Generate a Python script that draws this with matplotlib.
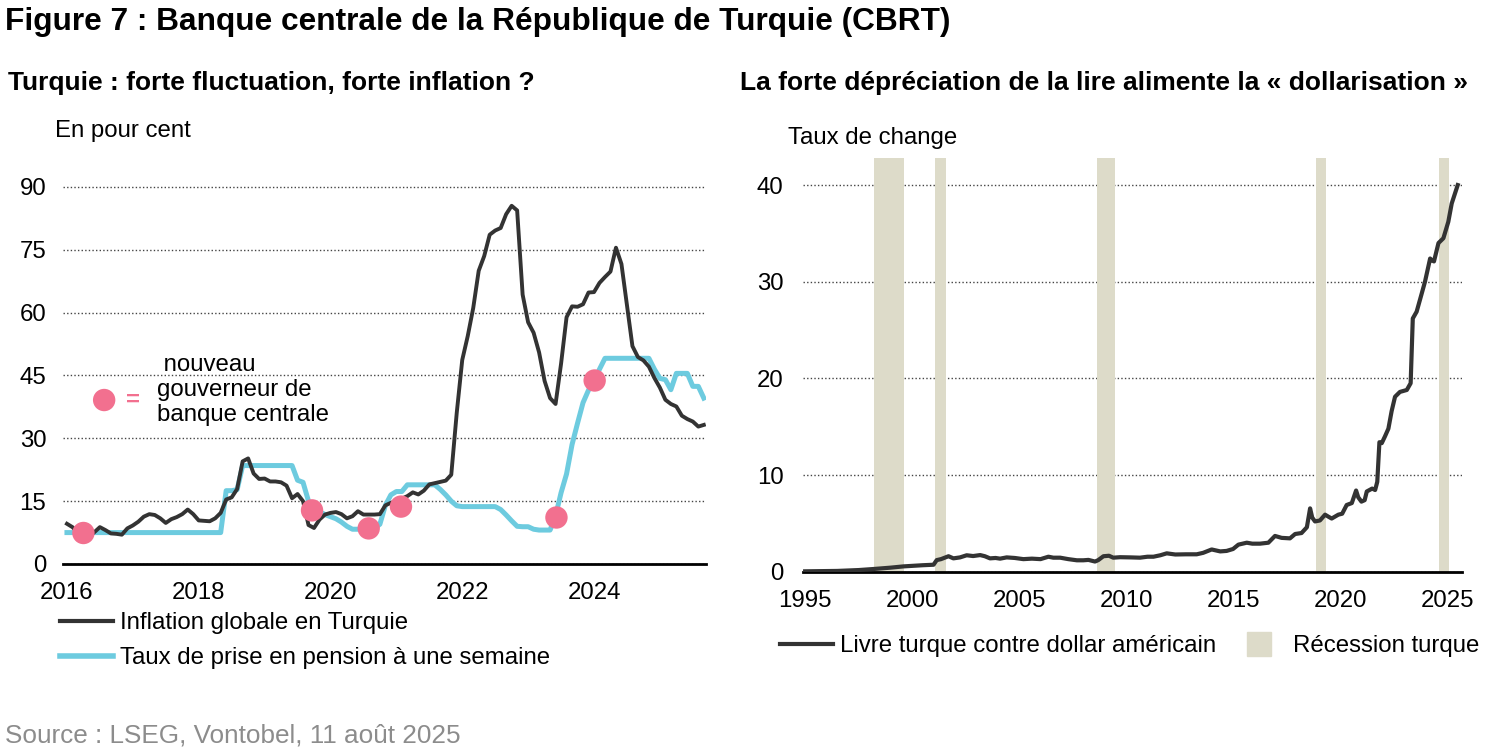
import numpy as np
import matplotlib
matplotlib.use("Agg")
import matplotlib.pyplot as plt
from matplotlib.lines import Line2D

plt.rcParams["font.family"] = ["Liberation Sans", "DejaVu Sans"]

# --- left panel: monthly data, Jan 2016 onwards ---
inflation = [
    9.6, 8.8, 7.5, 6.6, 6.6, 7.6, 8.8, 8.1, 7.3, 7.2, 7.0, 8.5,          # 2016
    9.2, 10.1, 11.3, 11.9, 11.7, 10.9, 9.8, 10.7, 11.2, 11.9, 13.0, 11.9,  # 2017
    10.4, 10.3, 10.2, 10.9, 12.2, 15.4, 15.9, 17.9, 24.5, 25.2, 21.6, 20.3,  # 2018
    20.4, 19.7, 19.7, 19.5, 18.7, 15.7, 16.7, 15.0, 9.3, 8.6, 10.6, 11.8,    # 2019
    12.2, 12.4, 11.9, 10.9, 11.4, 12.6, 11.8, 11.8, 11.8, 11.9, 14.0, 14.6,  # 2020
    15.0, 15.6, 16.2, 17.1, 16.6, 17.5, 19.0, 19.3, 19.6, 19.9, 21.3, 36.1,  # 2021
    48.7, 54.4, 61.1, 70.0, 73.5, 78.6, 79.6, 80.2, 83.5, 85.5, 84.4, 64.3,  # 2022
    57.7, 55.2, 50.5, 43.7, 39.6, 38.2, 47.8, 58.9, 61.5, 61.4, 62.0, 64.8,  # 2023
    64.9, 67.1, 68.5, 69.8, 75.5, 71.6, 61.8, 52.0, 49.4, 48.6, 47.1, 44.4,  # 2024
    42.1, 39.2, 38.2, 37.6, 35.4, 34.6, 34.0, 32.8, 33.2,                    # 2025
]
repo_rate = [
    7.5, 7.5, 7.5, 7.5, 7.5, 7.5, 7.5, 7.5, 7.5, 7.5, 7.5, 7.5,
    7.5, 7.5, 7.5, 7.5, 7.5, 7.5, 7.5, 7.5, 7.5, 7.5, 7.5, 7.5,
    7.5, 7.5, 7.5, 7.5, 7.5, 17.5, 17.5, 17.75, 23.5, 23.5, 23.5, 23.5,
    23.5, 23.5, 23.5, 23.5, 23.5, 23.5, 20.0, 19.5, 15.0, 13.5, 12.5, 11.8,
    11.3, 10.8, 10.0, 9.0, 8.3, 8.3, 8.3, 8.3, 8.5, 9.5, 14.0, 16.5,
    17.3, 17.3, 18.9, 18.9, 18.9, 18.9, 18.9, 18.9, 17.8, 16.5, 15.0, 13.9,
    13.7, 13.7, 13.7, 13.7, 13.7, 13.7, 13.7, 13.0, 11.7, 10.3, 9.0, 8.9,
    8.9, 8.3, 8.1, 8.1, 8.1, 11.5, 17.0, 21.5, 28.5, 33.6, 38.5, 41.5,
    43.5, 46.5, 49.1, 49.1, 49.1, 49.1, 49.1, 49.1, 49.1, 49.1, 49.1, 46.5,
    44.3, 44.0, 41.6, 45.5, 45.5, 45.5, 42.4, 42.4, 39.6,
]
months = 2016 + np.arange(len(inflation)) / 12

gov_x = [2016.25, 2019.72, 2020.58, 2021.07, 2023.43, 2024.01]
gov_y = [7.4, 12.8, 8.5, 13.7, 11.1, 43.8]

left_yticks = [0, 15, 30, 45, 60, 75, 90]
left_xticks = [2016, 2018, 2020, 2022, 2024]

# --- right panel: USD/TRY ---
usd_x = [1995.0, 1996.5, 1997.5, 1998.2, 1999.0, 1999.6, 2000.5, 2001.0, 2001.15, 2001.35,
         2001.7, 2001.93, 2002.24, 2002.55, 2002.85, 2003.18, 2003.4, 2003.64, 2003.9, 2004.11,
         2004.42, 2004.8, 2005.2, 2005.6, 2006.0, 2006.37, 2006.6, 2006.92, 2007.3, 2007.7,
         2008.0, 2008.24, 2008.55, 2008.7, 2008.94, 2009.2, 2009.4, 2009.72, 2010.2, 2010.65,
         2011.0, 2011.28, 2011.6, 2011.9, 2012.3, 2012.8, 2013.3, 2013.6, 2014.0, 2014.4,
         2014.7, 2015.0, 2015.25, 2015.64, 2015.9, 2016.26, 2016.65, 2016.96, 2017.27, 2017.66,
         2017.9, 2018.2, 2018.45, 2018.6, 2018.7, 2018.83, 2019.06, 2019.3, 2019.45, 2019.61,
         2019.92, 2020.1, 2020.31, 2020.55, 2020.75, 2020.85, 2021.0, 2021.15, 2021.25, 2021.5,
         2021.64, 2021.74, 2021.84, 2021.95, 2022.1, 2022.26, 2022.41, 2022.57, 2022.8, 2023.12,
         2023.3, 2023.4, 2023.58, 2023.82, 2023.97, 2024.21, 2024.3, 2024.39, 2024.6, 2024.83,
         2025.06, 2025.22, 2025.5]
usd_y = [0.04, 0.08, 0.17, 0.28, 0.42, 0.55, 0.67, 0.72, 1.2, 1.3,
         1.6, 1.38, 1.48, 1.7, 1.62, 1.72, 1.6, 1.38, 1.42, 1.35,
         1.48, 1.42, 1.3, 1.35, 1.3, 1.55, 1.45, 1.45, 1.3, 1.18,
         1.18, 1.22, 1.05, 1.2, 1.6, 1.65, 1.45, 1.5, 1.48, 1.45,
         1.55, 1.55, 1.7, 1.9, 1.78, 1.8, 1.8, 1.95, 2.3, 2.1,
         2.15, 2.35, 2.8, 3.0, 2.9, 2.9, 3.0, 3.7, 3.5, 3.45,
         3.9, 4.0, 4.6, 6.55, 5.6, 5.2, 5.3, 5.9, 5.7, 5.5,
         5.9, 6.0, 6.9, 7.1, 8.4, 7.7, 7.25, 7.4, 8.3, 8.6,
         8.45, 9.3, 13.4, 13.3, 14.0, 14.8, 16.6, 18.1, 18.6, 18.8,
         19.5, 26.2, 26.9, 28.8, 30.0, 32.4, 32.2, 32.1, 34.0, 34.5,
         36.2, 38.1, 40.0]

recession_start = [1998.2, 2001.07, 2008.64, 2018.88, 2024.63]
recession_end = [1999.63, 2001.59, 2009.49, 2019.35, 2025.09]

right_yticks = [0, 10, 20, 30, 40]
right_xticks = [1995, 2000, 2005, 2010, 2015, 2020, 2025]

BLACK = "#333333"
CYAN = "#6dcbdf"
PINK = "#f2708f"
BAND = "#dddbc9"
FS = 17.3

W, H = 1500, 750


def px(x, y):
    return x / W, 1 - y / H


def style_axis(ax, yticks, xticks, ypad, xpad):
    for side in ["top", "right", "left"]:
        ax.spines[side].set_visible(False)
    ax.spines["bottom"].set_color("black")
    ax.spines["bottom"].set_linewidth(2)
    ax.set_yticks(yticks)
    ax.set_xticks(xticks)
    ax.yaxis.grid(True, linestyle=(0, (1, 1.6)), color="#444444", linewidth=1)
    ax.set_axisbelow(True)
    ax.tick_params(axis="y", length=0, labelsize=FS, pad=ypad)
    ax.tick_params(axis="x", length=0, labelsize=FS, pad=xpad)


fig = plt.figure(figsize=(15, 7.5), dpi=100)

fig.text(*px(5, 22), "Figure 7 : Banque centrale de la République de Turquie (CBRT)",
         fontsize=22.8, weight="bold", va="center", ha="left")
fig.text(*px(8, 83), "Turquie : forte fluctuation, forte inflation ?",
         fontsize=19, weight="bold", va="center", ha="left")
fig.text(*px(740, 83), "La forte dépréciation de la lire alimente la « dollarisation »",
         fontsize=19, weight="bold", va="center", ha="left")
fig.text(*px(55, 131), "En pour cent", fontsize=FS, va="center", ha="left")
fig.text(*px(788, 138), "Taux de change", fontsize=FS, va="center", ha="left")
fig.text(*px(5, 735), "Source : LSEG, Vontobel, 11 août 2025", fontsize=18.8,
         color="#8c8c8c", va="center", ha="left")

# left chart
ax1 = fig.add_axes([63 / W, 1 - 564 / H, (706 - 63) / W, (564 - 166) / H])
ax1.plot(months, repo_rate, color=CYAN, lw=3.6, solid_joinstyle="round", zorder=3)
ax1.plot(months, inflation, color=BLACK, lw=2.8, solid_joinstyle="round", zorder=4)
ax1.scatter(gov_x, gov_y, s=260, color=PINK, edgecolors="none", zorder=5)
ax1.set_xlim(2015.94, 2025.7)
ax1.set_ylim(0, 95)
style_axis(ax1, left_yticks, left_xticks, ypad=12, xpad=13)

ax1.scatter([0.064], [0.412], s=260, color=PINK, edgecolors="none",
            transform=ax1.transAxes, clip_on=False, zorder=5)
ax1.text(0.109, 0.412, "=", color=PINK, fontsize=FS, weight="bold",
         transform=ax1.transAxes, ha="center", va="center")
ax1.text(0.146, 0.437, " nouveau\ngouverneur de\nbanque centrale", fontsize=FS,
         transform=ax1.transAxes, ha="left", va="center", linespacing=1.2)

leg1 = fig.legend(handles=[Line2D([], [], color=BLACK, lw=3),
                           Line2D([], [], color=CYAN, lw=4)],
                  labels=["Inflation globale en Turquie",
                          "Taux de prise en pension à une semaine"],
                  loc="upper left", bbox_to_anchor=px(60, 612), frameon=False,
                  fontsize=FS, handlelength=2.2, handletextpad=0.3,
                  labelspacing=0.55, borderpad=0, borderaxespad=0)

# right chart
ax2 = fig.add_axes([803 / W, 1 - 571.7 / H, (1462 - 803) / W, (571.7 - 158) / H])
for s, e in zip(recession_start, recession_end):
    ax2.axvspan(s, e, color=BAND, lw=0, zorder=1)
ax2.plot(usd_x, usd_y, color=BLACK, lw=3, solid_joinstyle="round", zorder=4)
ax2.set_xlim(1994.9, 2025.7)
ax2.set_ylim(0, 42.8)
style_axis(ax2, right_yticks, right_xticks, ypad=14, xpad=13)

leg2 = fig.legend(handles=[Line2D([], [], color=BLACK, lw=3),
                           Line2D([], [], marker="s", ls="none", color=BAND,
                                  markersize=17)],
                  labels=["Livre turque contre dollar américain", "Récession turque"],
                  ncol=2, loc="center left", bbox_to_anchor=px(780, 646),
                  frameon=False, fontsize=FS, handlelength=2.2, handletextpad=0.3,
                  columnspacing=0.7, borderpad=0, borderaxespad=0)

fig.savefig("out.png", dpi=100)
